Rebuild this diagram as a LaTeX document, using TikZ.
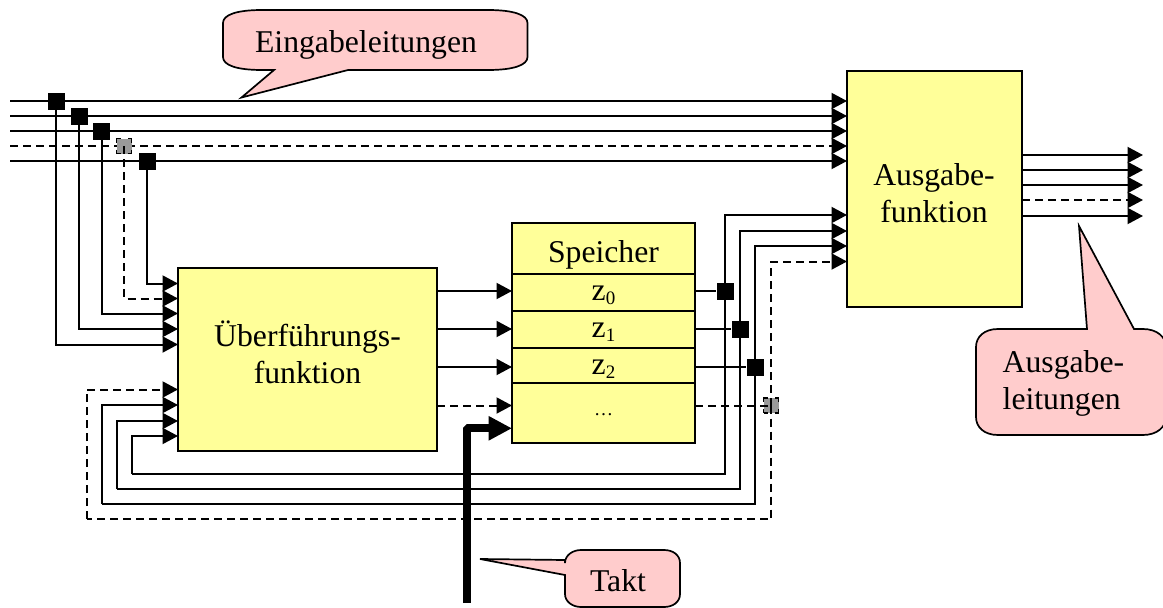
\documentclass[tikz,border=0pt]{standalone}
\usepackage{fontspec}
\setmainfont{Liberation Serif}
\usetikzlibrary{arrows.meta}
\newcommand{\zsub}[1]{z\raisebox{-4pt}{\fontsize{19}{19}\selectfont #1}}
\tikzset{
  x=1pt,y=-1pt,
  txt/.style={font=\fontsize{31.7}{37}\selectfont,align=center,inner sep=0pt,text=black},
  blockbox/.style={draw=black,fill=boxyellow,line width=2pt,inner sep=0pt,outer sep=0pt,anchor=north west},
  wire/.style={line width=2pt,draw=black},
  dwire/.style={wire,dash pattern=on 8pt off 5pt},
  arr/.style={-{Triangle[length=15.5pt,width=16pt,fill=black]}},
  bigarr/.style={line width=8pt,line join=bevel,-{Triangle[length=23.5pt,width=23pt,fill=black]}},
  jblack/.style={draw=none,fill=black,minimum size=17pt,inner sep=0pt},
  jgray/.style={draw=black,dash pattern=on 8pt off 7pt,dash phase=4pt,line width=1.5pt,fill=gray!80,minimum size=15pt,inner sep=0pt},
  callout/.style={draw=black,fill=calloutpink,line width=1.7pt,line join=miter},
}
\definecolor{boxyellow}{RGB}{255,255,153}
\definecolor{calloutpink}{RGB}{255,204,204}
\begin{document}
\begin{tikzpicture}
\useasboundingbox (0,0) rectangle (1163,608);
\clip (0,0) rectangle (1163,608);

% blocks
\node[blockbox,minimum width=259pt,minimum height=183pt] (ueb) at (178,268) {};
\node[blockbox,minimum width=175pt,minimum height=236pt] (aus) at (847,71) {};
\node[blockbox,minimum width=183pt,minimum height=51pt] (sp) at (512,223) {};
\node[blockbox,minimum width=183pt,minimum height=37pt] (sz0) at (512,274) {};
\node[blockbox,minimum width=183pt,minimum height=37pt] (sz1) at (512,311) {};
\node[blockbox,minimum width=183pt,minimum height=35pt] (sz2) at (512,348) {};
\node[blockbox,minimum width=183pt,minimum height=60pt] (sz3) at (512,383) {};

% input lines
\foreach \n/\y in {1/101,2/116,3/131,4/146,5/161}{
  \coordinate (ins\n) at (10,\y);
  \coordinate (ine\n) at (847,\y);
}
\node[jblack] (j1) at (56,101) {};
\node[jblack] (j2) at (79,116) {};
\node[jblack] (j3) at (101.5,131) {};
\node[jblack] (j5) at (147,161.5) {};

\draw[wire,arr] (ins1) -- (ine1);
\draw[wire,arr] (ins2) -- (ine2);
\draw[wire,arr] (ins3) -- (ine3);
\draw[dwire,arr] (ins4) -- (ine4);
\draw[wire,arr] (ins5) -- (ine5);

% inputs to Ueberfuehrung
\foreach \n/\y in {a/283.5,b/298.5,c/313.5,d/329,e/344.5,f/389.5,g/405,h/421,i/436}{
  \coordinate (ui\n) at (178,\y);
}
\node[jgray] (j4) at (124,146) {};
\draw[wire,arr] (j5.center) |- (uia);
\draw[dwire,arr] (j4.center) |- (uib);
\draw[wire,arr] (j3.center) |- (uic);
\draw[wire,arr] (j2.center) |- (uid);
\draw[wire,arr] (j1.center) |- (uie);

% Ueberfuehrung to Speicher
\foreach \n/\y in {0/291,1/329,2/367,3/405.5}{
  \coordinate (ua\n) at (437,\y);
  \coordinate (si\n) at (512,\y);
  \coordinate (so\n) at (695,\y);
}
\draw[wire,arr] (ua0) -- (si0);
\draw[wire,arr] (ua1) -- (si1);
\draw[wire,arr] (ua2) -- (si2);
\draw[dwire,arr] (ua3) -- (si3);

% Speicher outputs
\node[jblack] (k0) at (725,291) {};
\node[jblack] (k1) at (740,329) {};
\node[jblack] (k2) at (755,367) {};
\draw[wire] (so0) -- (k0);
\draw[wire] (so1) -- (k1);
\draw[wire] (so2) -- (k2);
\node[jgray] (k3) at (771,405.5) {};
\draw[dwire] (so3) -- (k3.center);

\foreach \n/\y in {0/215,1/231,2/246,3/261.5}{
  \coordinate (ao\n) at (847,\y);
}
\draw[wire,arr] (k0.center) |- (ao0);
\draw[wire,arr] (k1.center) |- (ao1);
\draw[wire,arr] (k2.center) |- (ao2);
\draw[dwire,arr] (k3.center) |- (ao3);

% feedback
\coordinate (b0) at (725,474);
\coordinate (b1) at (740,489);
\coordinate (b2) at (755,504);
\coordinate (b3) at (771,519);
\coordinate (l0) at (132,474);
\coordinate (l1) at (117,489);
\coordinate (l2) at (101.5,504);
\coordinate (l3) at (86.5,519);
\draw[wire] (k0.center) -- (b0) -- (l0);
\draw[wire,arr] (l0) |- (uii);
\draw[wire] (k1.center) -- (b1) -- (l1);
\draw[wire,arr] (l1) |- (uih);
\draw[wire] (k2.center) -- (b2) -- (l2);
\draw[wire,arr] (l2) |- (uig);
\draw[dwire] (k3.center) -- (b3) -- (l3);
\draw[dwire,arr] (l3) |- (uif);

% outputs
\foreach \n/\y in {1/155,2/170,3/185,4/200,5/216}{
  \coordinate (os\n) at (1022,\y);
  \coordinate (oe\n) at (1143,\y);
}
\draw[wire,arr] (os1) -- (oe1);
\draw[wire,arr] (os2) -- (oe2);
\draw[wire,arr] (os3) -- (oe3);
\draw[dwire,arr] (os4) -- (oe4);
\draw[wire,arr] (os5) -- (oe5);

% clock
\coordinate (t0) at (466.7,603);
\coordinate (t1) at (512,428.3);
\draw[bigarr] (t0) |- (t1);

% callouts
\draw[callout] (241.5,97.5) -- (274,70) -- (262,70)
  .. controls (236,70) and (223,65) .. (223,57) -- (223,23)
  .. controls (223,15) and (236,10) .. (262,10) -- (488,10)
  .. controls (514,10) and (527.5,15) .. (527.5,23) -- (527.5,57)
  .. controls (527.5,65) and (514,70) .. (488,70) -- (348,70) -- cycle;
\draw[callout] (1079,226) -- (1087,329) -- (998,329)
  .. controls (984,329) and (976,337) .. (976,347) -- (976,417)
  .. controls (976,427) and (984,435) .. (998,435) -- (1143,435)
  .. controls (1157,435) and (1166,427) .. (1166,417) -- (1166,347)
  .. controls (1166,337) and (1157,329) .. (1143,329) -- (1134,329) -- cycle;
\draw[callout] (480,559) -- (565,560) -- (565,563)
  .. controls (565,555) and (573,550) .. (581,550) -- (664,550)
  .. controls (673,550) and (680,555) .. (680,563) -- (680,594)
  .. controls (680,602) and (673,607) .. (664,607) -- (581,607)
  .. controls (573,607) and (565,602) .. (565,594) -- (565,575) -- cycle;

% labels
\node[txt,anchor=base] (tein) at (366,52) {Eingabeleitungen};
\node[txt,anchor=base] (tspe) at (603.5,262.5) {Speicher};
\node[txt,anchor=base] (tz0) at (603.5,300) {\zsub{0}};
\node[txt,anchor=base] (tz1) at (603.5,337) {\zsub{1}};
\node[txt,anchor=base] (tz2) at (603.5,374) {\zsub{2}};
\node[txt,anchor=base,font=\fontsize{19}{19}\selectfont] (tdots) at (603.5,415) {…};
\node[txt,anchor=base] (tueb) at (307.5,383) {Überführungs-\\funktion};
\node[txt,anchor=base] (taus) at (934,222) {Ausgabe-\\funktion};
\node[txt,align=left,anchor=base west] (tale) at (1002.5,409.5) {Ausgabe-\\leitungen};
\node[txt,anchor=base] (ttak) at (618,591.5) {Takt};
\end{tikzpicture}
\end{document}
